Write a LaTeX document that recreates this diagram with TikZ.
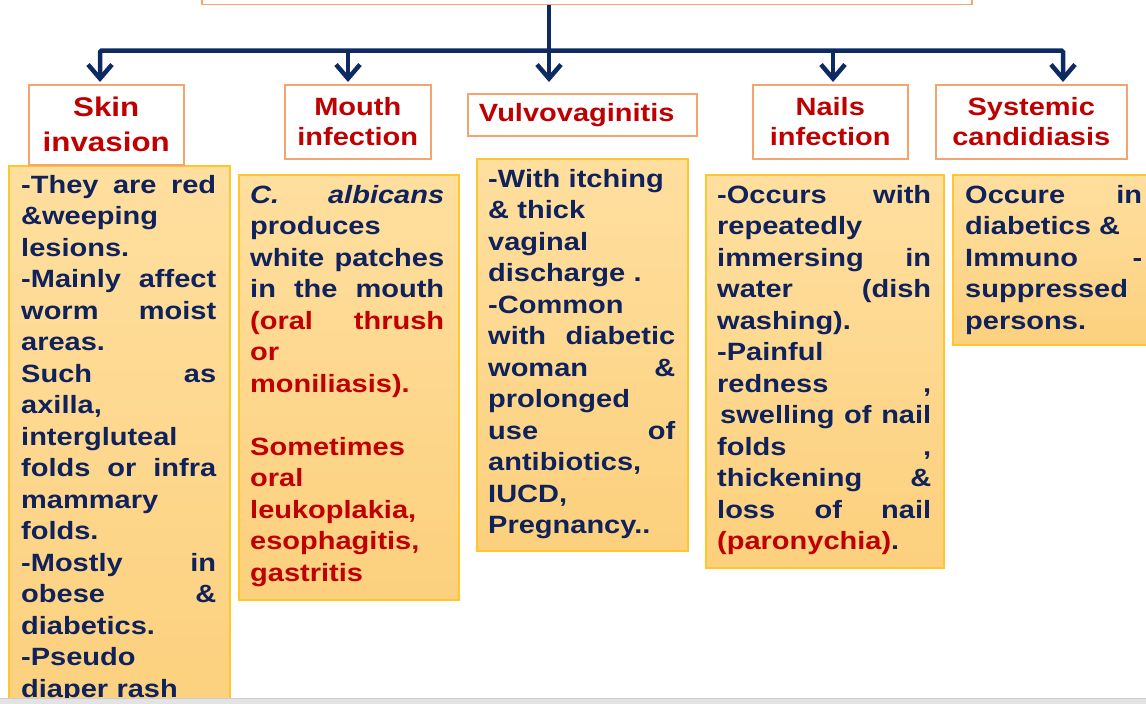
\documentclass[tikz,border=0pt]{standalone}
\usepackage{fontspec}
\setmainfont{Liberation Sans}[FakeStretch=1.16]
\usetikzlibrary{arrows.meta}
\definecolor{navy}{HTML}{0F225C}
\definecolor{hred}{HTML}{C00000}
\definecolor{hdrline}{HTML}{F4A46E}
\definecolor{bodyline}{HTML}{FFC72C}
\definecolor{bodytop}{HTML}{FFDF9F}
\definecolor{bodybot}{HTML}{FCD07D}
\definecolor{conncol}{HTML}{0E2A62}
\definecolor{barfill}{HTML}{E3E3E3}
\definecolor{barline}{HTML}{CDCDCD}
\newcommand\J[2]{{\spaceskip=0pt\xspaceskip=0pt\makebox[#1][s]{#2}}}
\newcommand\fl{\rule{0pt}{22pt}}
\tikzset{
  chev/.tip={Straight Barb[length=14pt,width=24pt]},
  hdrbox/.style={draw=hdrline, line width=1.5pt, fill=white, anchor=north west,
    inner sep=0pt, text=hred, font=\fontsize{25}{30}\selectfont\bfseries, align=center},
  bodybox/.style={draw=bodyline, line width=1.5pt, top color=bodytop, bottom color=bodybot,
    anchor=north west, inner sep=0pt},
  bodytext/.style={anchor=north west, inner sep=0pt, text=navy,
    font=\fontsize{25}{31.5}\selectfont\bfseries, align=left},
  connector/.style={draw=conncol, line width=4.5pt},
}
\begin{document}
\begin{tikzpicture}[x=1pt,y=-1pt]
\useasboundingbox (0,0) rectangle (1146,704);
\clip (0,0) rectangle (1146,704);
\fill[white] (0,0) rectangle (1146,704);

% top box
\node[draw=hdrline, line width=1.5pt, anchor=south west, minimum width=770pt,
  minimum height=40pt, inner sep=0pt] (topbox) at (201,5) {};

% connector coordinates
\coordinate (a1) at (100,82);
\coordinate (a2) at (348,82);
\coordinate (a3) at (549,82);
\coordinate (a4) at (833,82);
\coordinate (a5) at (1063,82);
\coordinate (b1) at (100,50.5);
\coordinate (b2) at (348,50.5);
\coordinate (b4) at (833,50.5);
\coordinate (b5) at (1063,50.5);

\draw[connector, chev-chev, rounded corners=1.5pt] (a1) -- (b1) -- (b5) -- (a5);
\draw[connector, -chev] (b2) -- (a2);
\draw[connector, -chev] (b4) -- (a4);
\draw[connector, -chev] (topbox.south -| a3) -- (a3);

% body boxes
\node[bodybox, minimum width=221pt, minimum height=560pt] (skinbody) at (8,165) {};
\node[bodybox, minimum width=220pt, minimum height=425pt] (mouthbody) at (238,174) {};
\node[bodybox, minimum width=211pt, minimum height=392pt] (vulvobody) at (476,158) {};
\node[bodybox, minimum width=238pt, minimum height=393pt] (nailsbody) at (705,174) {};
\node[bodybox, minimum width=210pt, minimum height=170pt] (sysbody) at (952,174) {};

% headers
\node[hdrbox, minimum width=155pt, minimum height=80pt,
  font=\fontsize{27}{35}\selectfont\bfseries] (skinhdr) at (28,84) {Skin\\invasion};
\node[hdrbox, minimum width=146pt, minimum height=74pt] (mouthhdr) at (284,84) {Mouth\\infection};
\node[hdrbox, minimum width=229pt, minimum height=42pt] (vulvohdr) at (467,93) {Vulvovaginitis\hspace*{11pt}};
\node[hdrbox, minimum width=155pt, minimum height=74pt] (nailshdr) at (752,84) {Nails\\infection};
\node[hdrbox, minimum width=191pt, minimum height=74pt] (syshdr) at (935,84) {Systemic\\candidiasis};

% body texts
\node[bodytext, text width=195pt] (skintext) at (21,171) {%
\fl\J{195pt}{-They are red}\\
\&weeping\\
lesions.\\
\J{195pt}{-Mainly affect}\\
\J{195pt}{worm moist}\\
areas.\\
\J{195pt}{Such as}\\
axilla,\\
intergluteal\\
\J{195pt}{folds or infra}\\
mammary\\
folds.\\
\J{195pt}{-Mostly in}\\
\J{195pt}{obese \&}\\
diabetics.\\
-Pseudo\\
diaper rash};

\node[bodytext, text width=194pt] (mouthtext) at (250,181) {%
\fl\J{194pt}{\textit{C.} \textit{albicans}}\\
produces\\
\J{194pt}{white patches}\\
\J{194pt}{in the mouth}\\
\J{194pt}{\color{hred}(oral thrush}\\
{\color{hred}or}\\
{\color{hred}moniliasis).}\\
\mbox{}\\
{\color{hred}Sometimes}\\
{\color{hred}oral}\\
{\color{hred}leukoplakia,}\\
{\color{hred}esophagitis,}\\
{\color{hred}gastritis}};

\node[bodytext, text width=187pt] (vulvotext) at (488,165) {%
\fl -With itching\\
\& thick\\
vaginal\\
discharge .\\
-Common\\
\J{187pt}{with diabetic}\\
\J{187pt}{woman \&}\\
prolonged\\
\J{187pt}{use of}\\
antibiotics,\\
IUCD,\\
Pregnancy..};

\node[bodytext, text width=214pt] (nailstext) at (717,181) {%
\fl\J{214pt}{-Occurs with}\\
repeatedly\\
\J{214pt}{immersing in}\\
\J{214pt}{water (dish}\\
washing).\\
-Painful\\
\J{214pt}{redness ,}\\
\J{214pt}{\hspace*{3pt}swelling of nail}\\
\J{214pt}{folds ,}\\
\J{214pt}{thickening \&}\\
\J{214pt}{loss of nail}\\
{\color{hred}(paronychia)}.};

\node[bodytext, text width=177pt] (systext) at (965,181) {%
\fl\J{177pt}{Occure in}\\
diabetics \&\\
\J{177pt}{Immuno -}\\
suppressed\\
persons.};

% bottom bar
\fill[barfill] (0,698) rectangle (1146,704);
\draw[barline, line width=1pt] (0,698) -- (1146,698);
\end{tikzpicture}
\end{document}
